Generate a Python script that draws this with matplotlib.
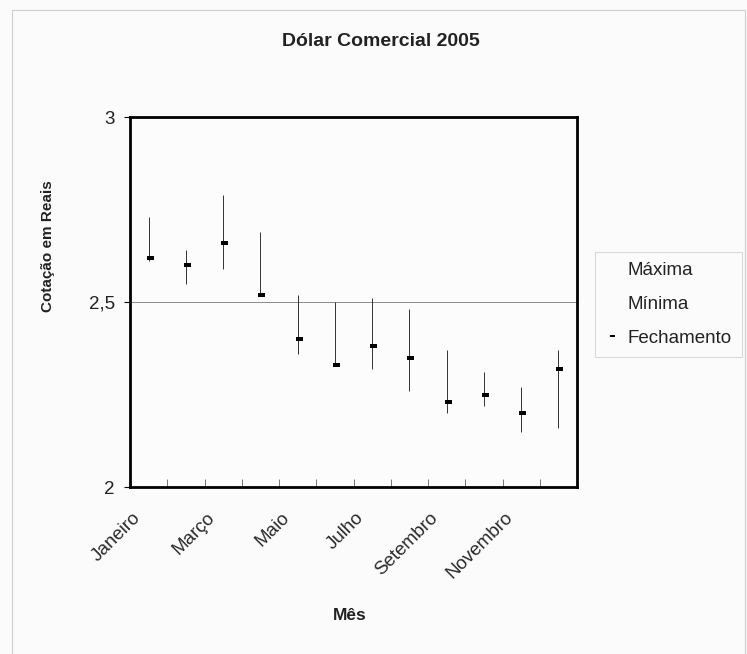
import numpy as np
import matplotlib
matplotlib.use("Agg")
import matplotlib.pyplot as plt
import matplotlib.transforms as mtransforms
from matplotlib.lines import Line2D
from matplotlib.patches import Rectangle
from matplotlib.path import Path

plt.rcParams['font.family'] = ['Liberation Sans', 'DejaVu Sans']

# cotacao mensal do dolar comercial em 2005
meses = ["Janeiro", "Fevereiro", "Março", "Abril", "Maio", "Junho",
         "Julho", "Agosto", "Setembro", "Outubro", "Novembro", "Dezembro"]
maxima = [2.73, 2.64, 2.79, 2.69, 2.52, 2.50, 2.51, 2.48, 2.37, 2.31, 2.27, 2.37]
minima = [2.61, 2.55, 2.59, 2.52, 2.36, 2.33, 2.32, 2.26, 2.20, 2.22, 2.15, 2.16]
fechamento = [2.62, 2.60, 2.66, 2.52, 2.40, 2.33, 2.38, 2.35, 2.23, 2.25, 2.20, 2.32]

x = np.arange(len(meses))
W, H = 747, 654

fig = plt.figure(figsize=(W / 100, H / 100), dpi=100)
fig.patch.set_facecolor("#fbfbfb")
# moldura clara em volta do grafico
fig.patches.append(Rectangle((12 / W, -0.01), 733 / W, 1 - 10 / H + 0.01,
                             transform=fig.transFigure, fill=False,
                             edgecolor="#cfcfcf", linewidth=0.8))

ax = fig.add_axes([130 / W, 1 - 487 / H, 447 / W, 370 / H])
ax.set_facecolor("#fcfcfc")

# linha de grade em 2,5
ax.axhline(2.5, color="#8a8a8a", linewidth=0.7, zorder=1)

# haste maxima-minima
ax.vlines(x, minima, maxima, color="#333333", linewidth=0.7, zorder=2)

# traco de fechamento, deslocado para a direita da haste
tick_path = Path([(-0.33, -0.33), (1, -0.33), (1, 0.33), (-0.33, 0.33), (-0.33, -0.33)],
                 [Path.MOVETO, Path.LINETO, Path.LINETO, Path.LINETO, Path.CLOSEPOLY])
ax.plot(x, fechamento, linestyle="none", marker=tick_path, markersize=7.5,
        color="black", markeredgewidth=0, zorder=3)

ax.set_xlim(-0.5, 11.5)
ax.set_ylim(2, 3)

ax.set_yticks([2, 2.5, 3])
ax.set_yticklabels(["2", "2,5", "3"], fontsize=13.5, color="#222222")
ax.tick_params(axis="y", direction="out", length=4, width=0.8, pad=7)

ax.set_xticks(x[::2])
ax.set_xticklabels(meses[::2], rotation=45, ha="right", rotation_mode="anchor",
                   fontsize=13.5, color="#2a2a2a")
ax.set_xticks(np.arange(-0.5, 12, 1), minor=True)
ax.tick_params(axis="x", which="major", length=0, pad=16)
ax.tick_params(axis="x", which="minor", direction="in", length=6, width=0.7,
               color="#777777")
shift = mtransforms.ScaledTranslation(-17 / 100, 0, fig.dpi_scale_trans)
for lab in ax.get_xticklabels():
    lab.set_transform(lab.get_transform() + shift)

for s in ax.spines.values():
    s.set_linewidth(2.0)
    s.set_color("black")

fig.text(381 / W, 1 - 41 / H, "Dólar Comercial 2005", fontsize=14,
         fontweight="bold", color="#222222", ha="center", va="center")
fig.text(48 / W, 1 - 246 / H, "Cotação em Reais", fontsize=11,
         fontweight="bold", color="#222222", ha="center", va="center",
         rotation=90)
fig.text(350 / W, 1 - 616 / H, "Mês", fontsize=12.5, fontweight="bold",
         color="#222222", ha="center", va="center")

handles = [Line2D([], [], linestyle="none", marker="none"),
           Line2D([], [], linestyle="none", marker="none"),
           Line2D([], [], linestyle="none", marker=tick_path, markersize=6,
                  color="black", markeredgewidth=0)]
leg = fig.legend(handles, ["Máxima", "Mínima", "Fechamento"],
                 loc="upper left", bbox_to_anchor=(595 / W, 1 - 252 / H),
                 frameon=True, fancybox=False, fontsize=13.5,
                 handlelength=0.6, handletextpad=0.6, labelspacing=0.88,
                 borderpad=0.55, borderaxespad=0)
leg.get_frame().set_edgecolor("#d0d0d0")
leg.get_frame().set_linewidth(0.8)
leg.get_frame().set_facecolor("#fcfcfc")
for t in leg.get_texts():
    t.set_color("#222222")

fig.savefig("out.png", dpi=100, facecolor=fig.get_facecolor())
